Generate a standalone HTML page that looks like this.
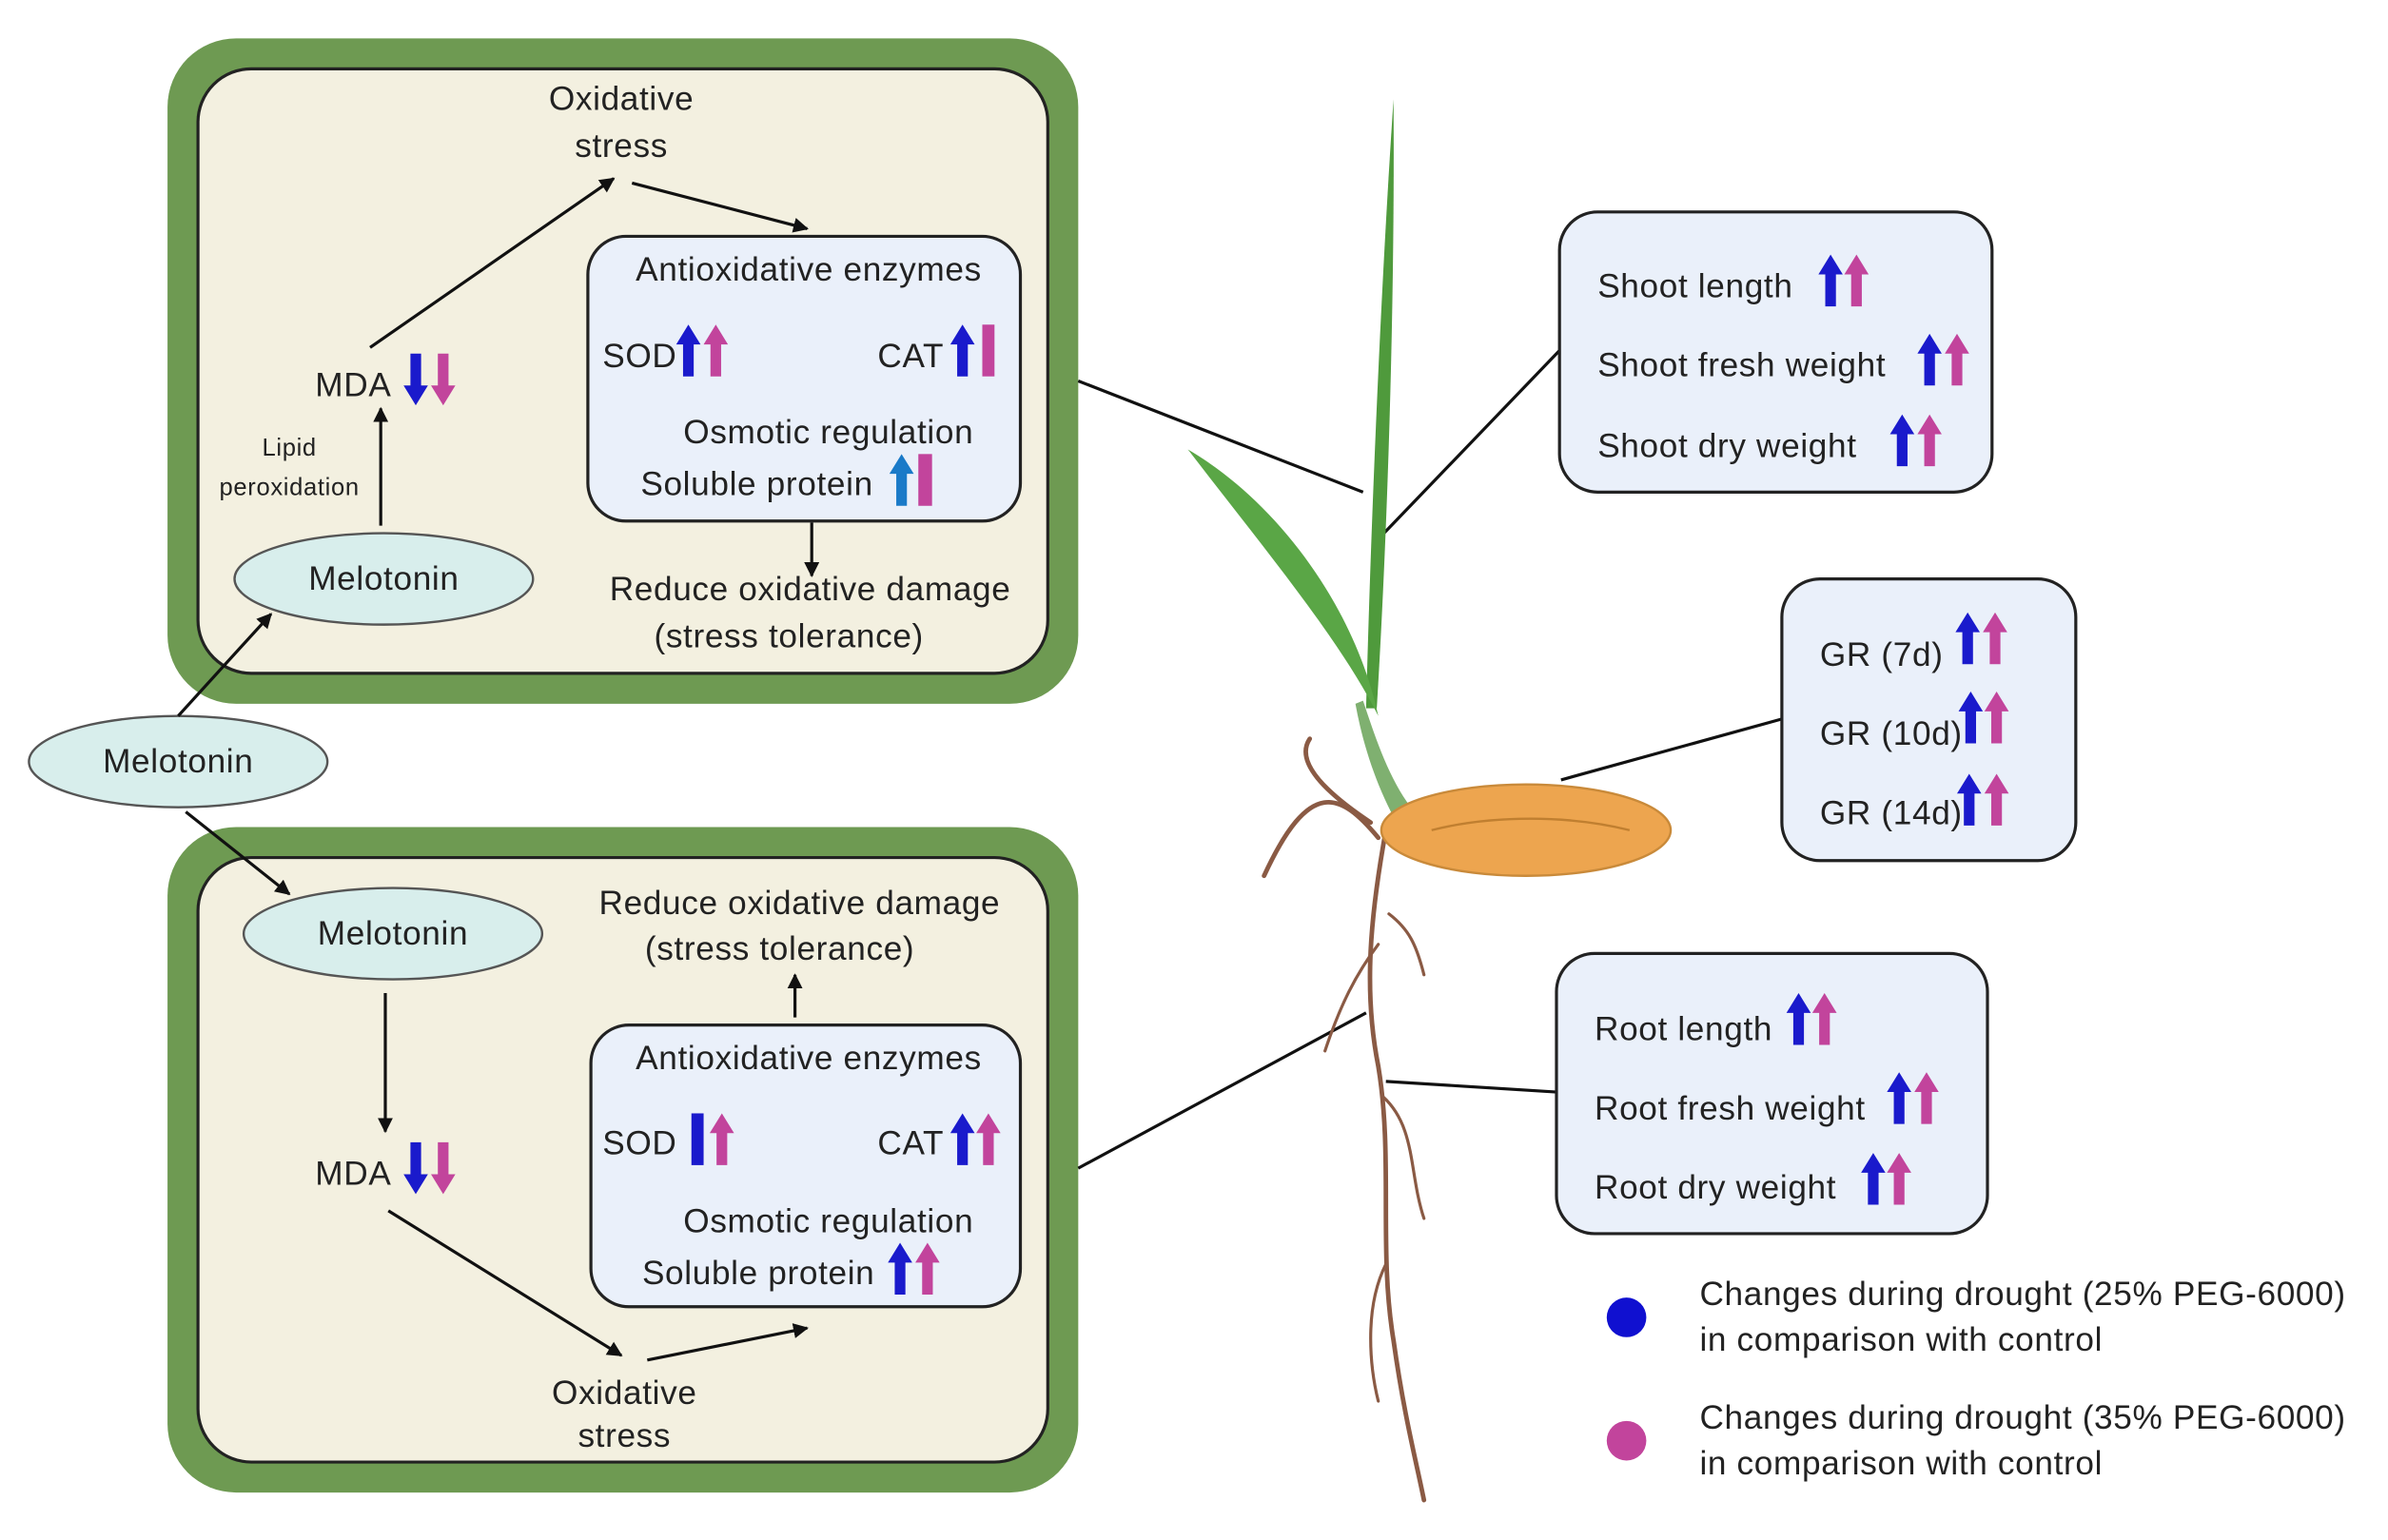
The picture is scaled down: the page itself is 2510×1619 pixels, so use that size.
<!DOCTYPE html>
<html><head><meta charset="utf-8"><style>
html,body{margin:0;padding:0;background:#fff;}
svg{display:block;}
text{font-family:"Liberation Sans",sans-serif;font-size:22px;letter-spacing:0.4px;fill:#222;}
</style></head><body>
<svg width="2510" height="1619" viewBox="0 0 1568 1011" xmlns="http://www.w3.org/2000/svg">
<defs>
<marker id="ah" markerWidth="10" markerHeight="10" refX="9" refY="5" orient="auto" markerUnits="userSpaceOnUse"><path d="M0,0 L10,5 L0,10 z" fill="#111"/></marker>
<symbol id="ub" viewBox="-8 -17 16 34" width="16" height="34" overflow="visible"><polygon points="0,-17 -8,-4 -3.5,-4 -3.5,17 3.5,17 3.5,-4 8,-4" fill="#1a1acc"/></symbol>
<symbol id="up" viewBox="-8 -17 16 34" width="16" height="34" overflow="visible"><polygon points="0,-17 -8,-4 -3.5,-4 -3.5,17 3.5,17 3.5,-4 8,-4" fill="#c2449c"/></symbol>
<symbol id="ul" viewBox="-8 -17 16 34" width="16" height="34" overflow="visible"><polygon points="0,-17 -8,-4 -3.5,-4 -3.5,17 3.5,17 3.5,-4 8,-4" fill="#1a7ac8"/></symbol>
</defs>

<rect x="110" y="25" width="598" height="437" rx="45" fill="#6e9a52"/>
<rect x="130" y="45" width="558" height="397" rx="35" fill="#f3f0e0" stroke="#222" stroke-width="2"/>
<rect x="110" y="543" width="598" height="437" rx="45" fill="#6e9a52"/>
<rect x="130" y="563" width="558" height="397" rx="35" fill="#f3f0e0" stroke="#222" stroke-width="2"/>

<text x="408" y="72" text-anchor="middle">Oxidative</text>
<text x="408" y="103" text-anchor="middle">stress</text>
<line x1="243" y1="228" x2="403" y2="117" stroke="#111" stroke-width="2" marker-end="url(#ah)"/>
<line x1="415" y1="120" x2="530" y2="150" stroke="#111" stroke-width="2" marker-end="url(#ah)"/>
<rect x="386" y="155" width="284" height="187" rx="25" fill="#eaf0fa" stroke="#222" stroke-width="2"/>
<text x="531" y="184" text-anchor="middle">Antioxidative enzymes</text>
<text x="420" y="241" text-anchor="middle">SOD</text>
<use href="#ub" x="444" y="213"/><use href="#up" x="462" y="213"/>
<text x="598" y="241" text-anchor="middle">CAT</text>
<use href="#ub" x="624" y="213"/><rect x="645" y="213" width="8" height="34" fill="#c2449c"/>
<text x="544" y="291" text-anchor="middle">Osmotic regulation</text>
<text x="497" y="325" text-anchor="middle">Soluble protein</text>
<use href="#ul" x="584" y="298"/><rect x="603" y="298" width="9" height="34" fill="#c2449c"/>
<line x1="533" y1="343" x2="533" y2="378" stroke="#111" stroke-width="2" marker-end="url(#ah)"/>
<text x="532" y="394" text-anchor="middle">Reduce oxidative damage</text>
<text x="518" y="425" text-anchor="middle">(stress tolerance)</text>
<text x="232" y="260" text-anchor="middle">MDA</text>
<use href="#ub" x="265" y="232" transform="rotate(180 273 249)"/>
<use href="#up" x="283" y="232" transform="rotate(180 291 249)"/>
<line x1="250" y1="345" x2="250" y2="268" stroke="#111" stroke-width="2" marker-end="url(#ah)"/>
<text x="190" y="299" text-anchor="middle" style="font-size:16px">Lipid</text>
<text x="190" y="325" text-anchor="middle" style="font-size:16px">peroxidation</text>
<ellipse cx="252" cy="380" rx="98" ry="30" fill="#d8eeec" stroke="#555" stroke-width="1.5"/>
<text x="252" y="387" text-anchor="middle">Melotonin</text>

<ellipse cx="117" cy="500" rx="98" ry="30" fill="#d8eeec" stroke="#555" stroke-width="1.5"/>
<text x="117" y="507" text-anchor="middle">Melotonin</text>
<line x1="117" y1="470" x2="178" y2="403" stroke="#111" stroke-width="2" marker-end="url(#ah)"/>
<line x1="122" y1="533" x2="190" y2="587" stroke="#111" stroke-width="2" marker-end="url(#ah)"/>

<ellipse cx="258" cy="613" rx="98" ry="30" fill="#d8eeec" stroke="#555" stroke-width="1.5"/>
<text x="258" y="620" text-anchor="middle">Melotonin</text>
<line x1="253" y1="652" x2="253" y2="743" stroke="#111" stroke-width="2" marker-end="url(#ah)"/>
<text x="232" y="778" text-anchor="middle">MDA</text>
<use href="#ub" x="265" y="750" transform="rotate(180 273 767)"/>
<use href="#up" x="283" y="750" transform="rotate(180 291 767)"/>
<line x1="255" y1="795" x2="408" y2="890" stroke="#111" stroke-width="2" marker-end="url(#ah)"/>
<text x="410" y="922" text-anchor="middle">Oxidative</text>
<text x="410" y="950" text-anchor="middle">stress</text>
<line x1="425" y1="893" x2="530" y2="872" stroke="#111" stroke-width="2" marker-end="url(#ah)"/>
<rect x="388" y="673" width="282" height="185" rx="25" fill="#eaf0fa" stroke="#222" stroke-width="2"/>
<text x="531" y="702" text-anchor="middle">Antioxidative enzymes</text>
<text x="420" y="758" text-anchor="middle">SOD</text>
<rect x="454" y="731" width="8" height="34" fill="#1a1acc"/><use href="#up" x="466" y="731"/>
<text x="598" y="758" text-anchor="middle">CAT</text>
<use href="#ub" x="624" y="731"/><use href="#up" x="641" y="731"/>
<text x="544" y="809" text-anchor="middle">Osmotic regulation</text>
<text x="498" y="843" text-anchor="middle">Soluble protein</text>
<use href="#ub" x="583" y="816"/><use href="#up" x="601" y="816"/>
<line x1="522" y1="668" x2="522" y2="640" stroke="#111" stroke-width="2" marker-end="url(#ah)"/>
<text x="525" y="600" text-anchor="middle">Reduce oxidative damage</text>
<text x="512" y="630" text-anchor="middle">(stress tolerance)</text>

<line x1="708" y1="250" x2="895" y2="323" stroke="#111" stroke-width="2"/>
<line x1="708" y1="767" x2="897" y2="665" stroke="#111" stroke-width="2"/>
<line x1="1024" y1="230" x2="902" y2="357" stroke="#111" stroke-width="2"/>
<line x1="1170" y1="472" x2="1025" y2="512" stroke="#111" stroke-width="2"/>
<line x1="1022" y1="717" x2="910" y2="710" stroke="#111" stroke-width="2"/>

<g fill="none" stroke="#8a5a44" stroke-width="3" stroke-linecap="round">
<path d="M910,545 C900,600 895,650 905,700 C915,760 905,820 915,880 C922,930 930,960 935,985"/>
<path d="M905,550 C880,520 860,510 830,575"/>
<path d="M900,540 C870,520 850,500 860,485"/>
<path d="M905,620 C890,640 880,660 870,690" stroke-width="2"/>
<path d="M908,720 C930,740 925,770 935,800" stroke-width="2"/>
<path d="M912,600 C925,610 930,620 935,640" stroke-width="2"/>
<path d="M910,830 C895,860 900,900 905,920" stroke-width="2"/>
</g>
<path d="M897,465 C900,350 906,200 915,65 C916,200 911,350 904,465 Z" fill="#4f9a3c"/>
<path d="M780,295 C840,330 890,400 905,470 C880,420 830,360 780,295 Z" fill="#5aa646"/>
<path d="M895,460 C905,490 915,520 935,540 L920,545 C905,520 895,490 890,462 Z" fill="#7fb070"/>
<ellipse cx="1002" cy="545" rx="95" ry="30" fill="#eda54f" stroke="#c98a3a" stroke-width="1.5"/>
<path d="M940,545 C980,535 1030,535 1070,545" fill="none" stroke="#c07f30" stroke-width="1.5"/>

<rect x="1024" y="139" width="284" height="184" rx="25" fill="#eaf0fa" stroke="#222" stroke-width="2"/>
<text x="1049" y="195">Shoot length</text>
<use href="#ub" x="1194" y="167"/><use href="#up" x="1211" y="167"/>
<text x="1049" y="247">Shoot fresh weight</text>
<use href="#ub" x="1259" y="219"/><use href="#up" x="1277" y="219"/>
<text x="1049" y="300">Shoot dry weight</text>
<use href="#ub" x="1241" y="272"/><use href="#up" x="1259" y="272"/>

<rect x="1170" y="380" width="193" height="185" rx="25" fill="#eaf0fa" stroke="#222" stroke-width="2"/>
<text x="1195" y="437">GR (7d)</text>
<use href="#ub" x="1284" y="402"/><use href="#up" x="1302" y="402"/>
<text x="1195" y="489">GR (10d)</text>
<use href="#ub" x="1286" y="454"/><use href="#up" x="1303" y="454"/>
<text x="1195" y="541">GR (14d)</text>
<use href="#ub" x="1285" y="508"/><use href="#up" x="1303" y="508"/>

<rect x="1022" y="626" width="283" height="184" rx="25" fill="#eaf0fa" stroke="#222" stroke-width="2"/>
<text x="1047" y="683">Root length</text>
<use href="#ub" x="1173" y="652"/><use href="#up" x="1190" y="652"/>
<text x="1047" y="735">Root fresh weight</text>
<use href="#ub" x="1239" y="704"/><use href="#up" x="1257" y="704"/>
<text x="1047" y="787">Root dry weight</text>
<use href="#ub" x="1222" y="757"/><use href="#up" x="1239" y="757"/>

<circle cx="1068" cy="865" r="13" fill="#1010d0"/>
<circle cx="1068" cy="946" r="13" fill="#c2449c"/>
<text x="1116" y="857">Changes during drought (25% PEG-6000)</text>
<text x="1116" y="887">in comparison with control</text>
<text x="1116" y="938">Changes during drought (35% PEG-6000)</text>
<text x="1116" y="968">in comparison with control</text>
</svg>
</body></html>
